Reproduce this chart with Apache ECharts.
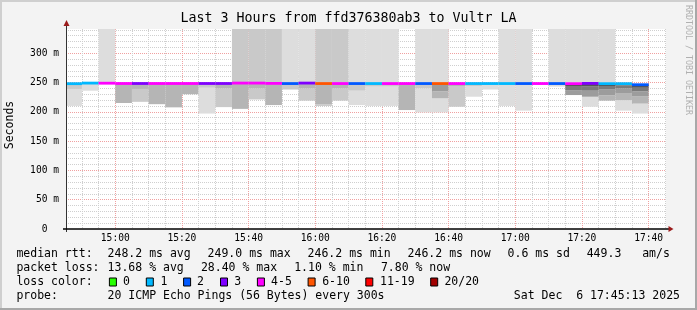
<!DOCTYPE html>
<html><head><meta charset="utf-8">
<script src="https://cdn.jsdelivr.net/npm/echarts@6/dist/echarts.min.js"></script>
<style>html,body{margin:0;padding:0;background:#f3f3f3;}#c{width:697px;height:310px;}</style>
</head><body><div id="c"></div><script>
// ---- data ----
const barEnds = ['14:50','14:55','15:00','15:05','15:10','15:15','15:20','15:25','15:30','15:35',
  '15:40','15:45','15:50','15:55','16:00','16:05','16:10','16:15','16:20','16:25',
  '16:30','16:35','16:40','16:45','16:50','16:55','17:00','17:05','17:10','17:15',
  '17:20','17:25','17:30','17:35','17:40'];
const medians = [248.0,249.0,248.8,248.3,248.3,248.3,248.3,248.3,248.3,248.3,
  249.0,249.0,248.5,248.2,249.0,248.2,248.2,248.2,248.2,248.2,
  248.2,248.2,248.2,248.2,248.2,248.2,248.2,248.2,248.2,248.2,
  248.0,248.5,248.0,248.0,246.2];
const lossCounts = [1,1,4,4,3,4,4,4,3,3, 4,5,4,2,3,6,4,2,1,4, 4,2,6,4,1,1,1,2,4,2, 4,3,1,1,2];
// smoke bands per bar: [low ms, high ms, density level]
const smoke = [
  [[210,239,1],[239,248,2]],
  [[236,249,1]],
  [[249,400,1]],
  [[215,248,3]],
  [[217,239,2],[239,248,3]],
  [[213,248,3]],
  [[207.6,248,3]],
  [[230,248,3]],
  [[197,241,1],[241,248,2]],
  [[208,240,2],[240,248,3]],
  [[205,248,3],[249,400,2]],
  [[221,240,2],[240,248,3],[249,400,2]],
  [[211.5,248,3],[249,400,2]],
  [[238,248,2],[249,400,1]],
  [[219,240,2],[240,248,3],[249,400,1]],
  [[210,213,2],[213,248,3],[249,400,2]],
  [[219,240,2],[240,248,3],[249,400,2]],
  [[211.5,236,1],[236,248,2],[249,400,1]],
  [[210,243,1],[243,248,2],[249,400,1]],
  [[210,243,1],[243,248,2],[249,400,1]],
  [[203,248,3]],
  [[199,240,1],[240,248,2],[249,400,1]],
  [[199,223,1],[223,235,3],[235,248,4],[249,400,1]],
  [[208.6,244,2],[244,248,3]],
  [[225.7,244,1],[244,248,2]],
  [[238,248,1]],
  [[210,248,1],[249,400,1]],
  [[202,248,1],[249,400,1]],
  [],
  [[243,248,1],[249,400,1]],
  [[228.6,237,4],[237,244,5],[244,248,6],[249,400,1]],
  [[208.6,225.7,1],[225.7,236,4],[236,243,5],[243,248,6],[249,400,1]],
  [[219,228,3],[228,238,4],[238,244,5],[244,248,6],[249,400,1]],
  [[202,220,1],[220,232,3],[232,240,4],[240,245,5],[245,248,6]],
  [[197,214,1],[214,226,3],[226,235,4],[235,241,5],[241,245,6],[245,247,7]]
];
const timeLabels = ['15:00','15:20','15:40','16:00','16:20','16:40','17:00','17:20','17:40'];
const yLabelValues = [0,50,100,150,200,250,300];
const lossLegend = [['0','#26ff00'],['1','#00b8ff'],['2','#0059ff'],['3','#7e00ff'],['4-5','#ff00ff'],['6-10','#ff5500'],['11-19','#ff0000'],['20/20','#a10000']];
const statsRtt = ['248.2 ms avg','249.0 ms max','246.2 ms min','246.2 ms now','0.6 ms sd','449.3','am/s'];
const statsLoss = ['13.68 % avg','28.40 % max','1.10 % min','7.80 % now'];
const probeText = '20 ICMP Echo Pings (56 Bytes) every 300s';
const dateText = 'Sat Dec  6 17:45:13 2025';
const titleText = 'Last 3 Hours from ffd376380ab3 to Vultr LA';

// ---- helpers ----
const toMin = s => { const [h,m] = s.split(':').map(Number); return (h-15)*60 + m; };
const X_MIN = -14 - 47/60, X_MAX = 165 + 13/60; // 14:45:13 .. 17:45:13
const Y_MAX = 341.3;
const shades = {1:'#dddddd',2:'#c9c9c9',3:'#b5b5b5',4:'#9c9c9c',5:'#7a7a7a',6:'#555555',7:'#2e2e2e'};
function lossColor(n){
  if(n===0) return lossLegend[0][1];
  if(n===1) return lossLegend[1][1];
  if(n===2) return lossLegend[2][1];
  if(n===3) return lossLegend[3][1];
  if(n<=5) return lossLegend[4][1];
  if(n<=10) return lossLegend[5][1];
  if(n<=19) return lossLegend[6][1];
  return lossLegend[7][1];
}
const smokeData = [], medData = [];
barEnds.forEach((t,i)=>{
  const e = toMin(t), s = e-5;
  smoke[i].forEach(b => smokeData.push([s,e,b[0],b[1],b[2]]));
  medData.push([s,e,medians[i],lossCounts[i]]);
});
const majorX = timeLabels.map(toMin);
const minorX = []; for(let m=-10;m<=165;m+=5){ if(m%20!==0) minorX.push(m); }
const majorY = [50,100,150,200,250,300];
const minorY = []; for(let v=10; v<=340; v+=10){ if(v%50!==0) minorY.push(v); }

function clipRect(r, cs){
  return echarts.graphic.clipRectByRect(r, {x:cs.x,y:cs.y,width:cs.width,height:cs.height});
}
function renderSmoke(params, api){
  const p0 = api.coord([api.value(0), api.value(2)]);
  const p1 = api.coord([api.value(1), api.value(3)]);
  const r = clipRect({x:p0[0], y:p1[1], width:p1[0]-p0[0], height:p0[1]-p1[1]}, params.coordSys);
  if(!r) return;
  return {type:'rect', shape:r, style:{fill: shades[api.value(4)]}};
}
function renderMedian(params, api){
  const p0 = api.coord([api.value(0), api.value(2)]);
  const p1 = api.coord([api.value(1), api.value(2)]);
  const r = clipRect({x:p0[0], y:p0[1]-1.4, width:p1[0]-p0[0], height:2.8}, params.coordSys);
  if(!r) return;
  return {type:'rect', shape:r, style:{fill: lossColor(api.value(3))}};
}

const FONT = "'DejaVu Sans Mono', monospace";
const dotted = (c) => ({color:c, width:1, type:[1,1]});
const G = {left:66, top:29, width:600, height:200};

// legend graphics
const gfx = [];
const txt = (x,y,text,size,extra) => Object.assign({type:'text', silent:true, style:Object.assign({x,y,text,font:size+'px '+FONT,fill:'#000',textVerticalAlign:'middle'}, extra||{})});
gfx.push(txt(348.5,19,titleText,13.3,{textAlign:'center'}));
const rowY = [254.5,268.5,282.5,296.5];
gfx.push(txt(16.4,rowY[0],'median rtt:',11.5));
[107.6,207.6,307.6,407.6,507.6,586.7,642.2].forEach((x,i)=>gfx.push(txt(x,rowY[0],statsRtt[i],11.5)));
gfx.push(txt(16.4,rowY[1],'packet loss:',11.5));
[107.6,200.9,294.2,380.9].forEach((x,i)=>gfx.push(txt(x,rowY[1],statsLoss[i],11.5)));
gfx.push(txt(16.4,rowY[2],'loss color:',11.5));
[[108.9,123.1],[145.8,160.4],[183.1,196.9],[220,234.2],[256.9,271.1],[307.6,322.2],[365.3,380],[430.2,444.4]].forEach((p,i)=>{
  gfx.push({type:'rect', silent:true, shape:{x:p[0]+0.5,y:rowY[2]-4.5,width:7,height:8}, style:{fill:lossLegend[i][1], stroke:'#000', lineWidth:1}});
  gfx.push(txt(p[1],rowY[2],lossLegend[i][0],11.5));
});
gfx.push(txt(16.4,rowY[3],'probe:',11.5));
gfx.push(txt(107.6,rowY[3],probeText,11.5));
gfx.push(txt(680,rowY[3],dateText,11.5,{textAlign:'right'}));
gfx.push({type:'text', silent:true, x:10, y:125, rotation:Math.PI/2, style:{x:0,y:0,text:'Seconds',font:'11.5px '+FONT,fill:'#000',textAlign:'center',textVerticalAlign:'middle'}});
gfx.push({type:'text', silent:true, x:688.5, y:60, rotation:-Math.PI/2, style:{x:0,y:0,text:'RRDTOOL / TOBI OETIKER',font:'8.3px '+FONT,fill:'#b0b0b0',textAlign:'center',textVerticalAlign:'middle'}});
// axis lines + arrows
gfx.push({type:'line', silent:true, shape:{x1:66.5,y1:232,x2:66.5,y2:24}, style:{stroke:'#333',lineWidth:1}, z:10});
gfx.push({type:'line', silent:true, shape:{x1:63,y1:229,x2:670,y2:229}, style:{stroke:'#000',lineWidth:1.4}, z:10});
gfx.push({type:'polygon', silent:true, shape:{points:[[66.5,20],[63.5,26],[69.5,26]]}, style:{fill:'#9b1c1c'}, z:10});
gfx.push({type:'polygon', silent:true, shape:{points:[[673.5,229],[668.5,226],[668.5,232]]}, style:{fill:'#9b1c1c'}, z:10});
// frame
gfx.push({type:'rect', silent:true, shape:{x:1,y:1,width:695,height:308}, style:{fill:'none',stroke:'#cfcfcf',lineWidth:2}, z:-1});
gfx.push({type:'line', silent:true, shape:{x1:0,y1:309,x2:697,y2:309}, style:{stroke:'#a8a8a8',lineWidth:2}, z:-1});
gfx.push({type:'line', silent:true, shape:{x1:696,y1:0,x2:696,y2:310}, style:{stroke:'#a8a8a8',lineWidth:2}, z:-1});

const chart = echarts.init(document.getElementById('c'), null, {renderer:'canvas'});
chart.setOption({
  animation:false,
  backgroundColor:'#f3f3f3',
  grid:{left:G.left, top:G.top, width:G.width, height:G.height, show:true, backgroundColor:'#ffffff', borderWidth:0},
  xAxis:[
    {type:'value', min:X_MIN, max:X_MAX, axisLine:{show:false},
     axisTick:{show:false, customValues:majorX},
     axisLabel:{customValues:majorX, margin:4, formatter:v=>timeLabels[majorX.indexOf(v)]||'', fontFamily:'DejaVu Sans Mono', fontSize:9.6, color:'#000'},
     splitLine:{show:true, lineStyle:dotted('#f0a0a0')}},
    {type:'value', min:X_MIN, max:X_MAX, position:'bottom', axisLine:{show:false},
     axisTick:{show:false, customValues:minorX}, axisLabel:{show:false},
     splitLine:{show:true, lineStyle:dotted('#cfcfcf')}}
  ],
  yAxis:[
    {type:'value', min:0, max:Y_MAX, axisLine:{show:false},
     axisTick:{show:false, customValues:majorY},
     axisLabel:{customValues:yLabelValues, margin:7, formatter:v=>v===0?'0  ':v+' m', fontFamily:'DejaVu Sans Mono', fontSize:9.6, color:'#000'},
     splitLine:{show:true, lineStyle:dotted('#f0a0a0')}},
    {type:'value', min:0, max:Y_MAX, position:'left', axisLine:{show:false},
     axisTick:{show:false, customValues:minorY}, axisLabel:{show:false},
     splitLine:{show:true, lineStyle:dotted('#cfcfcf')}}
  ],
  series:[
    {type:'custom', name:'smoke', xAxisIndex:0, yAxisIndex:0, renderItem:renderSmoke, data:smokeData, encode:{x:[0,1],y:[2,3]}, z:2, silent:true},
    {type:'custom', name:'median', xAxisIndex:0, yAxisIndex:0, renderItem:renderMedian, data:medData, encode:{x:[0,1],y:[2]}, z:3, silent:true}
  ],
  graphic:gfx
});
</script></body></html>
